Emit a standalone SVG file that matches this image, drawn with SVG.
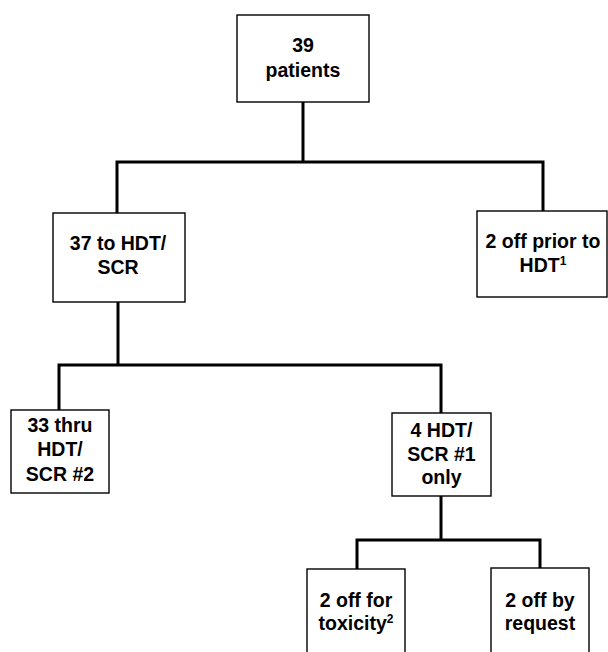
<svg xmlns="http://www.w3.org/2000/svg" width="608" height="652" viewBox="0 0 608 652">
<style>
.box{fill:#fff;stroke:#000;stroke-width:1.4}
.t{font-family:"Liberation Sans",Arial,sans-serif;font-weight:bold;font-size:19.5px;fill:#000;text-anchor:middle}
.sup{font-size:12px}
.c{fill:none;stroke:#000;stroke-width:3;stroke-linejoin:miter;stroke-linecap:butt}
</style>
<rect width="608" height="652" fill="#fff"/>
<g id="connectors">
<polyline class="c" points="303,102 303,162"/>
<polyline class="c" points="117,213 117,162 543,162 543,211"/>
<polyline class="c" points="118,302 118,365"/>
<polyline class="c" points="59,410 59,365 441,365 441,413"/>
<polyline class="c" points="441,496 441,540"/>
<polyline class="c" points="357,569 357,540 540,540 540,568"/>
</g>
<g id="n39">
<rect class="box" x="237" y="15" width="132" height="87"/>
<text class="t" x="303" y="52">39</text>
<text class="t" x="303" y="77">patients</text>
</g>
<g id="n37">
<rect class="box" x="53" y="213" width="132" height="89"/>
<text class="t" x="118" y="250">37 to HDT/</text>
<text class="t" x="118" y="274">SCR</text>
</g>
<g id="n2prior">
<rect class="box" x="477" y="211" width="130" height="86"/>
<text class="t" x="543" y="248">2 off prior to</text>
<text class="t" x="543" y="272">HDT<tspan class="sup" baseline-shift="7">1</tspan></text>
</g>
<g id="n33">
<rect class="box" x="11" y="410" width="98" height="83"/>
<text class="t" x="60" y="432">33 thru</text>
<text class="t" x="60" y="456">HDT/</text>
<text class="t" x="60" y="481">SCR #2</text>
</g>
<g id="n4">
<rect class="box" x="392" y="413" width="99" height="83"/>
<text class="t" x="441.5" y="437">4 HDT/</text>
<text class="t" x="441.5" y="461">SCR #1</text>
<text class="t" x="441.5" y="484">only</text>
</g>
<g id="ntox">
<rect class="box" x="307" y="569" width="98" height="95"/>
<text class="t" x="356" y="607">2 off for</text>
<text class="t" x="356" y="630">toxicity<tspan class="sup" baseline-shift="7">2</tspan></text>
</g>
<g id="nreq">
<rect class="box" x="491" y="568" width="98" height="96"/>
<text class="t" x="540" y="607">2 off by</text>
<text class="t" x="540" y="630">request</text>
</g>
</svg>
